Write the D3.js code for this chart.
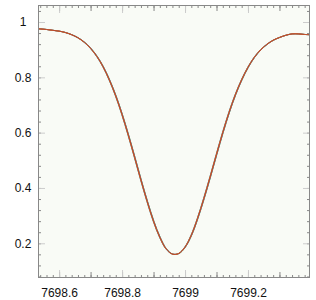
<!DOCTYPE html>
<html>
<head>
<meta charset="utf-8">
<script src="https://cdn.jsdelivr.net/npm/d3@7"></script>
<style>
  body { margin: 0; background: #fff; }
  text { font-family: "Liberation Sans", Arial, sans-serif; }
</style>
</head>
<body>
<svg id="chart" width="316" height="300"></svg>
<script>
// wavelength grid (Angstrom) and normalised flux
const wavelength = [
  7698.52, 7698.54, 7698.56, 7698.58, 7698.60, 7698.62, 7698.64, 7698.66, 7698.68, 7698.70,
  7698.72, 7698.74, 7698.76, 7698.78, 7698.80, 7698.82, 7698.84, 7698.86, 7698.88, 7698.90,
  7698.92, 7698.94, 7698.96, 7698.98, 7699.00, 7699.02, 7699.04, 7699.06, 7699.08, 7699.10,
  7699.12, 7699.14, 7699.16, 7699.18, 7699.20, 7699.22, 7699.24, 7699.26, 7699.28, 7699.30,
  7699.32, 7699.34, 7699.36, 7699.38, 7699.40
];
const flux = [
  0.977, 0.975, 0.973, 0.970, 0.967, 0.962, 0.954, 0.943, 0.927, 0.905,
  0.876, 0.838, 0.790, 0.733, 0.666, 0.591, 0.511, 0.429, 0.351, 0.280,
  0.222, 0.180, 0.161, 0.163, 0.186, 0.229, 0.290, 0.362, 0.440, 0.521,
  0.600, 0.673, 0.737, 0.791, 0.836, 0.872, 0.899, 0.919, 0.934, 0.944,
  0.952, 0.957, 0.957, 0.955, 0.954
];

// overlapping exposures: tiny wavelength offsets between them
const seriesNames = ['exp1', 'exp2', 'exp3', 'exp4', 'exp5'];
const seriesColors = ['#2ca02c', '#1f77b4', '#9467bd', '#ff7f0e', '#b5462e'];
const seriesShift = [0.0012, -0.0012, 0.0008, -0.0006, 0];

const xLabelTicks = [7698.6, 7698.8, 7699, 7699.2];
const yLabelTicks = [0.2, 0.4, 0.6, 0.8, 1];

const width = 316;
const height = 300;
const margin = { top: 5, right: 6, bottom: 22, left: 38 };

const svg = d3.select('#chart');

const x = d3
  .scaleLinear()
  .domain([7698.533, 7699.397])
  .range([margin.left, width - margin.right]);
const y = d3
  .scaleLinear()
  .domain([0.0745, 1.0615])
  .range([height - margin.bottom, margin.top]);

const xMinor = x.ticks(40);
const xMajor = x.ticks(8);
const yMinor = d3.range(2, 27).map((i) => +(i * 0.04).toFixed(2));

// plot background
svg
  .append('rect')
  .attr('x', margin.left)
  .attr('y', margin.top)
  .attr('width', width - margin.left - margin.right)
  .attr('height', height - margin.top - margin.bottom)
  .attr('fill', '#f9fbf6');

svg
  .append('clipPath')
  .attr('id', 'clip')
  .append('rect')
  .attr('x', margin.left)
  .attr('y', margin.top)
  .attr('width', width - margin.left - margin.right)
  .attr('height', height - margin.top - margin.bottom);

const series = seriesNames.map((name, i) => ({
  name,
  color: seriesColors[i],
  values: wavelength.map((w, j) => ({ w: w + seriesShift[i], f: flux[j] })),
}));

const line = d3
  .line()
  .x((d) => x(d.w))
  .y((d) => y(d.f))
  .curve(d3.curveCatmullRom.alpha(0.5));

svg
  .append('g')
  .attr('clip-path', 'url(#clip)')
  .selectAll('path')
  .data(series)
  .join('path')
  .attr('fill', 'none')
  .attr('stroke', (d) => d.color)
  .attr('stroke-width', 1)
  .attr('d', (d) => line(d.values));

// ticks, drawn inward on all four sides
const tickGroup = (axis, transform, values, size, color) => {
  const g = svg
    .append('g')
    .attr('transform', transform)
    .call(axis.tickValues(values).tickSize(size).tickFormat(''));
  g.select('.domain').remove();
  g.selectAll('line').attr('stroke', color);
  return g;
};

const bottomY = height - margin.bottom;
const rightX = width - margin.right;

tickGroup(d3.axisBottom(x), `translate(0,${bottomY})`, xMinor, -3, '#888');
tickGroup(d3.axisBottom(x), `translate(0,${bottomY})`, xMajor, -6, '#888');
tickGroup(d3.axisTop(x), `translate(0,${margin.top})`, xMinor, -3, '#888');
tickGroup(d3.axisTop(x), `translate(0,${margin.top})`, xMajor, -6, '#888');
tickGroup(d3.axisLeft(y), `translate(${margin.left},0)`, yMinor, -3, '#888');
tickGroup(d3.axisRight(y), `translate(${rightX},0)`, yMinor, -3, '#888');
tickGroup(d3.axisBottom(x), `translate(0,${bottomY})`, xLabelTicks, -8, '#ccc');
tickGroup(d3.axisTop(x), `translate(0,${margin.top})`, xLabelTicks, -8, '#ccc');
tickGroup(d3.axisLeft(y), `translate(${margin.left},0)`, yLabelTicks, -7, '#ccc');
tickGroup(d3.axisRight(y), `translate(${rightX},0)`, yLabelTicks, -7, '#ccc');

// tick labels
const xAxis = svg
  .append('g')
  .attr('transform', `translate(0,${bottomY})`)
  .call(
    d3
      .axisBottom(x)
      .tickValues(xLabelTicks)
      .tickSize(0)
      .tickPadding(10)
      .tickFormat((d) => +d.toFixed(1))
  );
xAxis.select('.domain').remove();
xAxis.selectAll('text').attr('font-size', 12).attr('fill', '#111');

const yAxis = svg
  .append('g')
  .attr('transform', `translate(${margin.left},0)`)
  .call(
    d3
      .axisLeft(y)
      .tickValues(yLabelTicks)
      .tickSize(0)
      .tickPadding(15)
      .tickFormat((d) => +d.toFixed(1))
  );
yAxis.select('.domain').remove();
yAxis
  .selectAll('text')
  .attr('font-size', 12)
  .attr('fill', '#111')
  .attr('text-anchor', 'middle');

// frame
svg
  .append('rect')
  .attr('x', margin.left + 0.5)
  .attr('y', margin.top + 0.5)
  .attr('width', width - margin.left - margin.right - 1)
  .attr('height', height - margin.top - margin.bottom - 1)
  .attr('fill', 'none')
  .attr('stroke', '#888')
  .attr('stroke-width', 1);
</script>
</body>
</html>
